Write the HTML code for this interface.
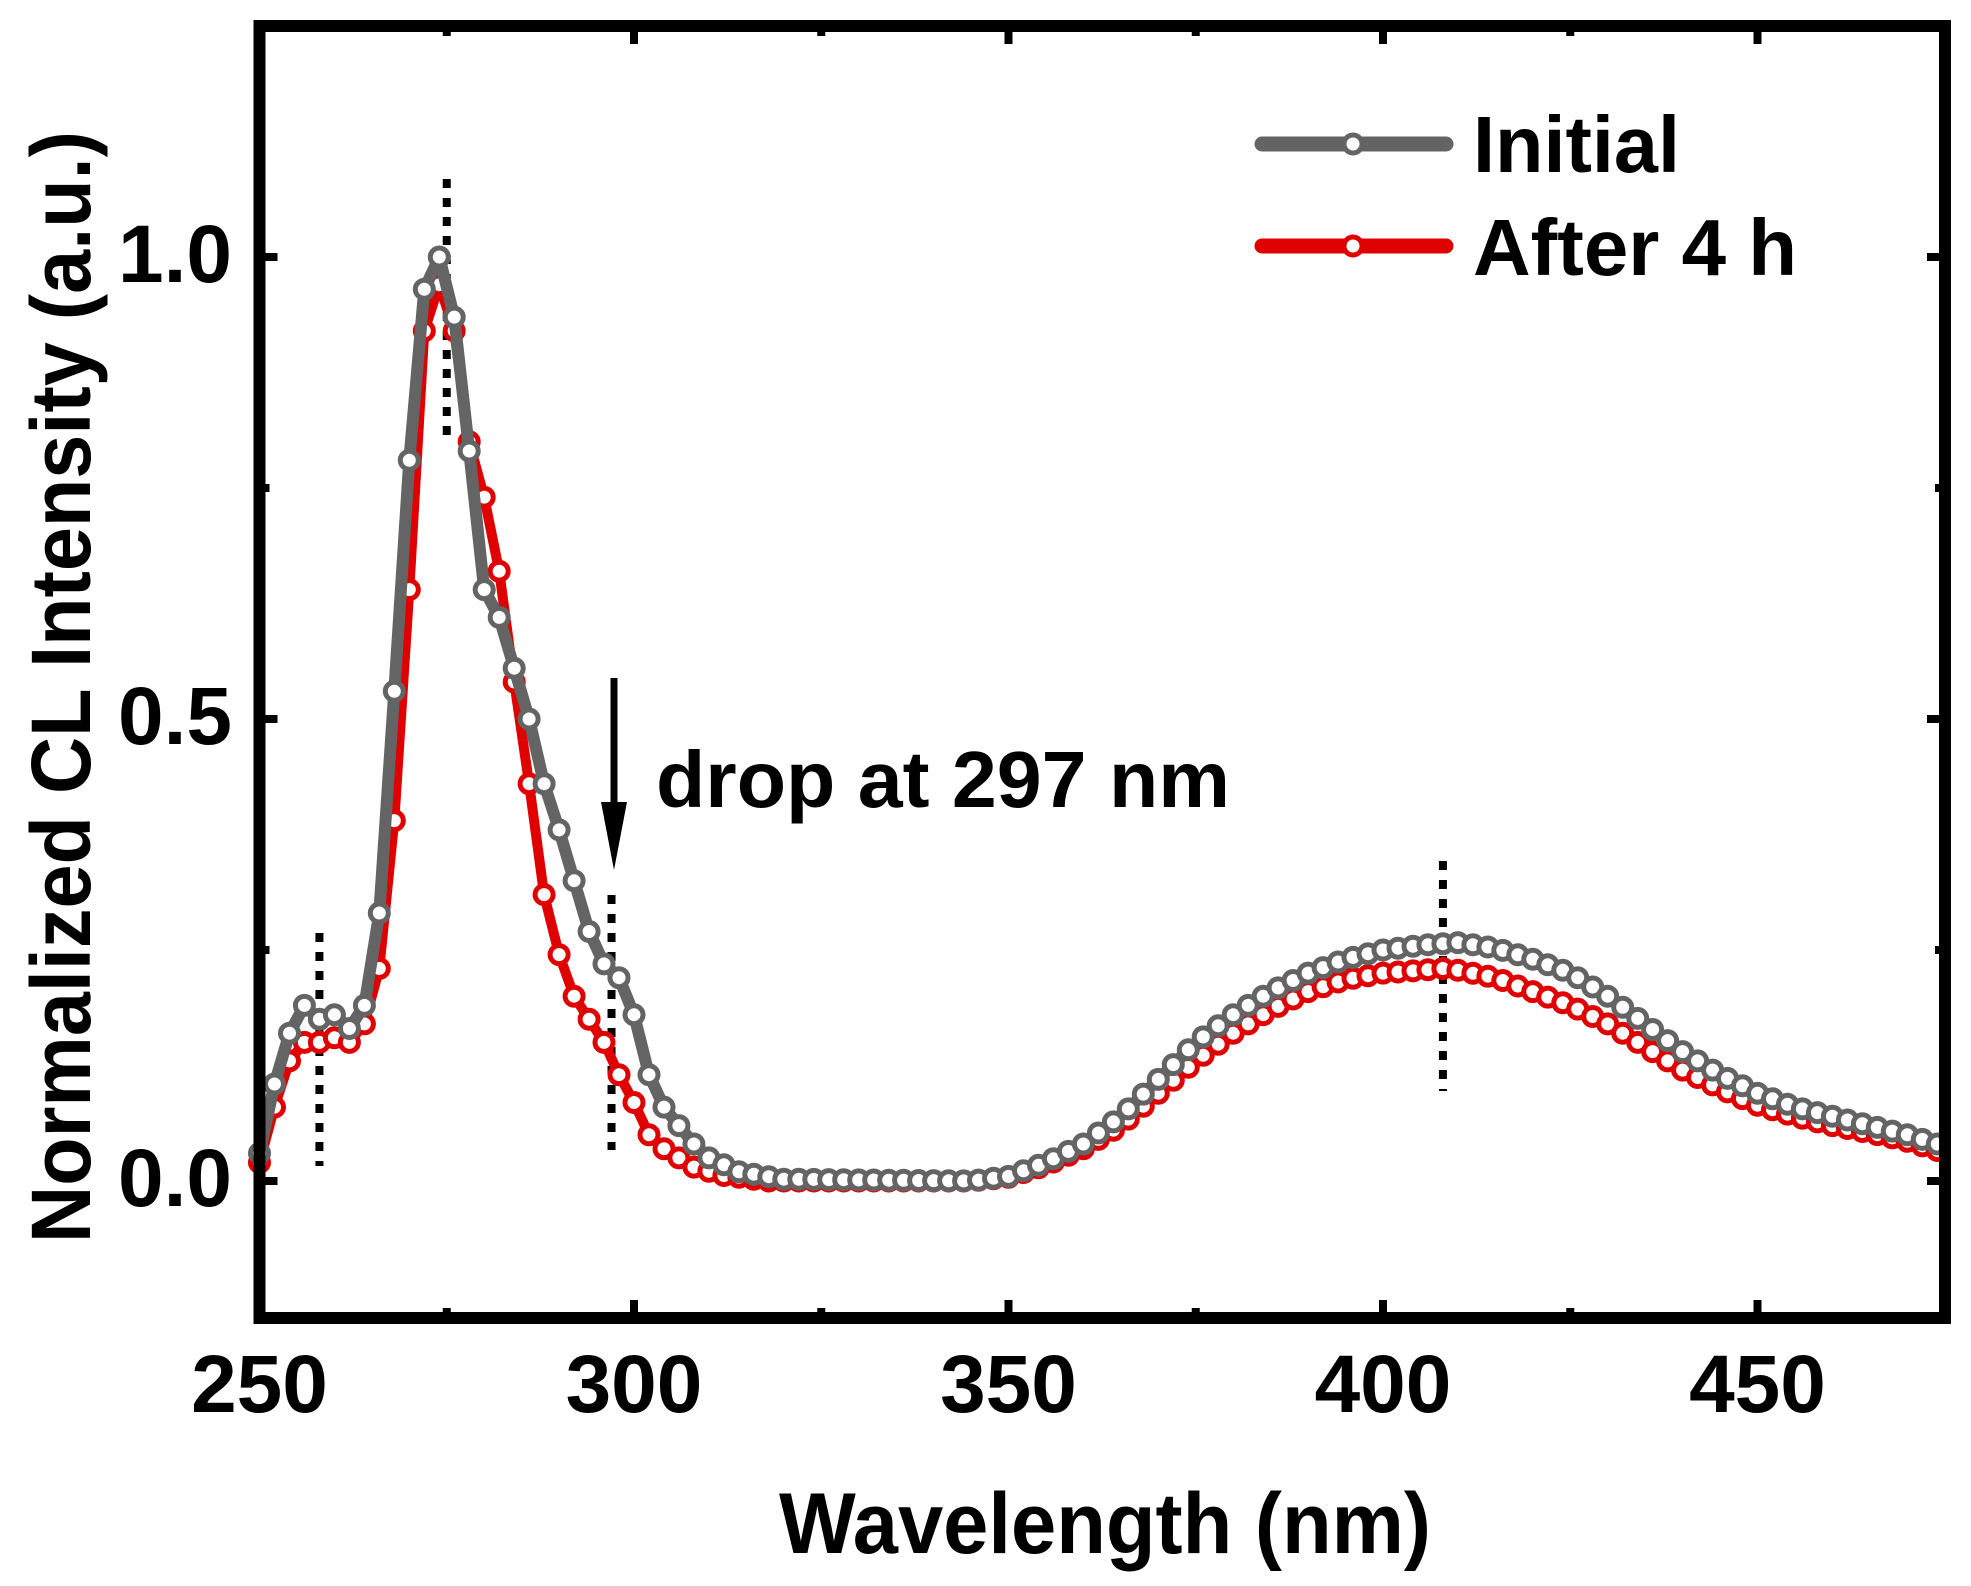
<!DOCTYPE html>
<html><head><meta charset="utf-8"><style>
html,body{margin:0;padding:0;background:#fff;}
svg{display:block;font-family:"Liberation Sans",Arial,sans-serif;font-weight:bold;}
</style></head><body>
<svg id="s" width="1971" height="1586" viewBox="0 0 1971 1586" xmlns="http://www.w3.org/2000/svg">
<rect width="1971" height="1586" fill="#fff"/>
<g id="ticks" stroke="#000" stroke-width="8"></g>
<g id="dots" stroke="#000" stroke-width="8" stroke-dasharray="9,10"></g>
<g id="data"></g>
<rect x="259.5" y="26" width="1685.5" height="1292" fill="none" stroke="#000" stroke-width="12"/>
<g font-size="82" text-anchor="middle">
<text x="259.5" y="1412">250</text><text x="634" y="1412">300</text><text x="1008.5" y="1412">350</text><text x="1383" y="1412">400</text><text x="1757.5" y="1412">450</text>
</g>
<g font-size="82" text-anchor="end">
<text x="232" y="282">1.0</text><text x="232" y="744">0.5</text><text x="232" y="1206">0.0</text>
</g>
<text x="1105" y="1553" font-size="86" text-anchor="middle" textLength="652" lengthAdjust="spacingAndGlyphs">Wavelength (nm)</text>
<text transform="translate(90,687) rotate(-90)" font-size="84" text-anchor="middle" textLength="1112" lengthAdjust="spacingAndGlyphs">Normalized CL Intensity (a.u.)</text>
<line x1="1262" y1="144" x2="1446" y2="144" stroke="#646464" stroke-width="15" stroke-linecap="round"/>
<circle cx="1353" cy="144" r="9" fill="#fff" stroke="#646464" stroke-width="5"/>
<line x1="1262" y1="246" x2="1446" y2="246" stroke="#e00000" stroke-width="15" stroke-linecap="round"/>
<circle cx="1353" cy="246" r="9" fill="#fff" stroke="#e00000" stroke-width="5"/>
<text x="1473" y="172" font-size="80" textLength="207" lengthAdjust="spacingAndGlyphs">Initial</text>
<text x="1473" y="275" font-size="80" textLength="324" lengthAdjust="spacingAndGlyphs">After 4 h</text>
<line x1="614" y1="678" x2="614" y2="805" stroke="#000" stroke-width="7"/>
<polygon points="601,802 627,802 614,870" fill="#000"/>
<text x="656" y="807" font-size="80" textLength="574" lengthAdjust="spacingAndGlyphs">drop at 297 nm</text>
</svg>
<script>
var X=function(v){return 259.5+(v-250)*7.49;},Y=function(v){return 1181-v*924;};
var NS="http://www.w3.org/2000/svg";
function el(t,a,p){var e=document.createElementNS(NS,t);for(var k in a)e.setAttribute(k,a[k]);p.appendChild(e);return e;}
var tk=document.getElementById('ticks');
for(var v=250;v<=475;v+=25){var maj=(v%50==0);var L=maj?18:10;var x=X(v);
el('line',{x1:x,y1:1318,x2:x,y2:1318-L},tk);el('line',{x1:x,y1:26,x2:x,y2:26+L},tk);}
for(var i=-0.0;i<=1.25;i+=0.25){var maj=(Math.abs(i*2-Math.round(i*2))<1e-6);var L=maj?18:10;var y=Y(i);
el('line',{x1:259.5,y1:y,x2:259.5+L,y2:y},tk);el('line',{x1:1945,y1:y,x2:1945-L,y2:y},tk);}
var dt=document.getElementById('dots');
[[258,933,1166],[275,179,435],[297,895,1150],[408,861,1091]].forEach(function(d){el('line',{x1:X(d[0]),y1:d[1],x2:X(d[0]),y2:d[2]},dt);});
var A=[[250,.03],[252,.105],[254,.16],[256,.19],[258,.175],[260,.18],[262,.165],[264,.19],[266,.29],[268,.53],[270,.78],[272,.965],[274,1],[276,.935],[278,.79],[280,.64],[282,.61],[284,.555],[286,.5],[288,.43],[290,.38],[292,.325],[294,.27],[296,.235],[298,.22],[300,.18],[302,.115],[304,.08],[306,.06],[308,.04],[310,.025],[314,.01],[320,.002],[345,0],[350,.005],[355,.02],[360,.04],[365,.07],[370,.11],[375,.15],[380,.18],[385,.205],[390,.225],[395,.24],[400,.25],[405,.255],[410,.258],[415,.252],[420,.24],[425,.225],[430,.2],[435,.17],[440,.14],[445,.115],[450,.095],[455,.08],[460,.07],[465,.06],[470,.05],[474,.04]];
var B=[[250,.02],[252,.08],[254,.13],[256,.15],[258,.15],[260,.155],[262,.15],[264,.17],[266,.23],[268,.39],[270,.64],[272,.92],[274,.97],[276,.92],[278,.8],[280,.74],[282,.66],[284,.54],[286,.43],[288,.31],[290,.245],[292,.2],[294,.175],[296,.15],[298,.115],[300,.085],[302,.05],[304,.035],[306,.025],[308,.015],[312,.006],[318,0],[345,0],[350,.004],[355,.017],[360,.035],[365,.06],[370,.095],[375,.13],[380,.16],[385,.185],[390,.205],[395,.218],[400,.225],[405,.228],[408,.23],[410,.228],[415,.22],[420,.205],[425,.19],[430,.17],[435,.145],[440,.12],[445,.1],[450,.082],[455,.07],[460,.06],[465,.052],[470,.043],[474,.033]];
function f(K,x){for(var i=0;i<K.length-1;i++){if(x>=K[i][0]&&x<=K[i+1][0]){var t=(x-K[i][0])/(K[i+1][0]-K[i][0]);return K[i][1]+t*(K[i+1][1]-K[i][1]);}}return K[K.length-1][1];}
var g=document.getElementById('data');
function series(K,col,w){var pts=[];for(var x=250;x<=474;x+=2)pts.push([X(x),Y(f(K,x))]);
el('polyline',{points:pts.map(function(p){return p[0].toFixed(1)+','+p[1].toFixed(1)}).join(' '),fill:'none',stroke:col,'stroke-width':w,'stroke-linejoin':'round'},g);
pts.forEach(function(p){el('circle',{cx:p[0].toFixed(1),cy:p[1].toFixed(1),r:9,fill:'#fff',stroke:col,'stroke-width':5},g);});}
series(B,'#e00000',10);series(A,'#646464',12);
</script>
</body></html>
